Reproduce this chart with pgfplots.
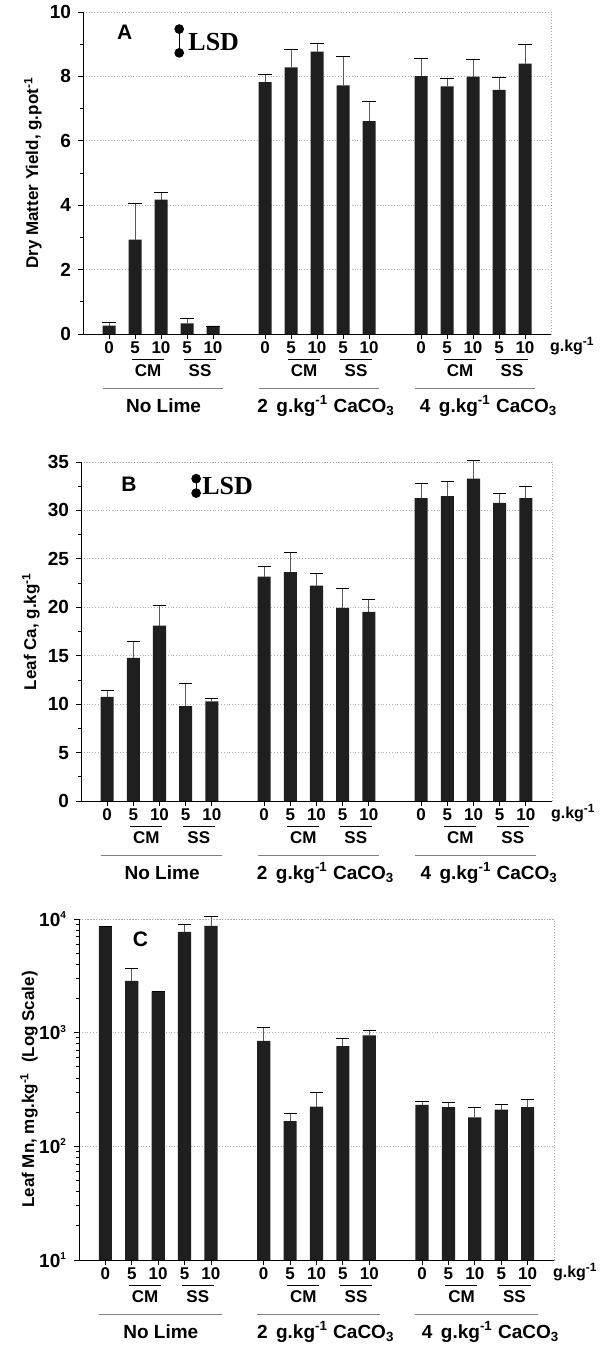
\documentclass[border=0pt]{standalone}
\usepackage{fontspec}
\setmainfont{Liberation Sans}
\newfontfamily\lsdfont{Liberation Serif}
\usepackage{pgfplots}
\pgfplotsset{compat=1.18}
\usepackage{pgfplotstable}

% dry matter yield, g/pot (value, upper error)
\pgfplotstableread{
x  y     e
0  0.26  0.10
1  2.93  1.14
2  4.17  0.24
3  0.33  0.14
4  0.25  0
6  7.82  0.25
7  8.28  0.57
8  8.77  0.25
9  7.72  0.89
10 6.61  0.62
12 8.01  0.54
13 7.69  0.24
14 7.99  0.53
15 7.58  0.39
16 8.40  0.59
}\dmy

% leaf Ca, g/kg
\pgfplotstableread{
x  y      e
0  10.76  0.69
1  14.79  1.66
2  18.10  2.14
3  9.79   2.38
4  10.28  0.34
6  23.17  1.07
7  23.62  2.00
8  22.24  1.21
9  19.93  2.04
10 19.52  1.34
12 31.27  1.56
13 31.48  1.52
14 33.28  1.92
15 30.79  0.97
16 31.27  1.21
}\leafca

% leaf Mn, mg/kg
\pgfplotstableread{
x  y     e
0  8600  0
1  2850  820
2  2300  0
3  7710  1310
4  8720  1840
6  849   261
7  167   27
8  224   73
9  760   124
10 947   110
12 232   15
13 221   21
14 180   41
15 210   22
16 221   38
}\leafmn

\newcommand{\lblfont}{\bfseries\fontsize{8.5}{9}\selectfont}
\newcommand{\ytfont}{\bfseries\fontsize{9.5}{10}\selectfont}
\newcommand{\grpfont}{\bfseries\fontsize{9.5}{10}\selectfont}
\newcommand{\letfont}{\bfseries\fontsize{10.5}{11}\selectfont}

% labels under one group: #1 first position, #2 y at bottom, #3 name offset, #4 group name
\newcommand{\grp}[4]{%
  \draw[thin] ([yshift=-12.5pt]axis cs:{#1+0.88},#2) -- ([yshift=-12.5pt]axis cs:{#1+2.1},#2);
  \draw[thin] ([yshift=-12.5pt]axis cs:{#1+2.9},#2) -- ([yshift=-12.5pt]axis cs:{#1+4.12},#2);
  \node[anchor=base,font=\lblfont] at ([yshift=-21pt]axis cs:{#1+1.5},#2) {CM};
  \node[anchor=base,font=\lblfont] at ([yshift=-21pt]axis cs:{#1+3.5},#2) {SS};
  \draw[gray,thin] ([yshift=-27pt]axis cs:{#1-0.25},#2) -- ([yshift=-27pt]axis cs:{#1+4.4},#2);
  \node[anchor=base,font=\grpfont] at ([yshift=-39pt]axis cs:{#1+#3},#2) {#4};
}
\newcommand{\allgroups}[1]{%
  \grp{0}{#1}{2.1}{No Lime}
  \grp{6}{#1}{2.35}{2\, g.kg\textsuperscript{-1} CaCO\textsubscript{3}}
  \grp{12}{#1}{2.6}{4\, g.kg\textsuperscript{-1} CaCO\textsubscript{3}}
  \node[anchor=base west,font=\bfseries\fontsize{8}{9}\selectfont,inner sep=0pt] at ([yshift=-8.5pt]axis cs:16.95,#1) {g.kg\textsuperscript{-1}};
  \draw[black,thin] (rel axis cs:0,1) -- (rel axis cs:0,0) -- (rel axis cs:1,0);
}

\pgfplotsset{
  panel/.style={
    scale only axis, clip=false,
    xmin=-1, xmax=17,
    xtick={0,1,2,3,4,6,7,8,9,10,12,13,14,15,16},
    xticklabels={0,5,10,5,10,0,5,10,5,10,0,5,10,5,10},
    tick pos=left, tick align=outside,
    major tick length=2.5pt, minor tick length=1.5pt,
    tick style={black, thin},
    axis line style={gray!70, thin, densely dotted},
    ymajorgrids, major grid style={densely dotted, gray!60},
    yticklabel style={font=\ytfont},
    /pgf/number format/assume math mode=true,
    xticklabel style={font=\lblfont, anchor=base, yshift=-7pt},
    ylabel style={font=\lblfont},
  },
  bars/.style={
    ybar, bar width=0.5, fill=black!88, draw=none,
    error bars/.cd, y dir=plus, y explicit,
    error bar style={gray!70!black, thin},
    error mark options={black, thin, rotate=90, mark size=3.3pt},
  },
}

\begin{document}
\begin{tikzpicture}
\path[use as bounding box] (0,0) rectangle (300pt,-674pt);

% A: dry matter yield
\begin{axis}[panel, at={(41.5pt,-167pt)}, anchor=south west,
  width=234pt, height=161pt,
  ymin=0, ymax=10, ytick={0,2,...,10}, minor y tick num=1,
  ylabel={Dry Matter Yield, g.pot\textsuperscript{-1}},
  ylabel style={at={([xshift=-25pt]axis description cs:0,0.5)}, anchor=center}]
\addplot[bars] table[x=x, y=y, y error=e] {\dmy};
\addplot[black, thin, mark=*, mark size=2.2pt] coordinates {(2.7,9.47) (2.7,8.73)};
\node[anchor=west, font=\lsdfont\bfseries\fontsize{13}{13}\selectfont, inner sep=0pt] at (axis cs:3.04,9.08) {LSD};
\node[font=\letfont] at (axis cs:0.6,9.36) {A};
\allgroups{0}
\end{axis}

% B: leaf Ca
\begin{axis}[panel, at={(40.5pt,-400.5pt)}, anchor=south west,
  width=235.5pt, height=169.5pt,
  ymin=0, ymax=35, ytick={0,5,...,35}, minor y tick num=1,
  ylabel={Leaf Ca, g.kg\textsuperscript{-1}},
  ylabel style={at={([xshift=-25pt]axis description cs:0,0.5)}, anchor=center}]
\addplot[bars] table[x=x, y=y, y error=e] {\leafca};
\addplot[black, thin, mark=*, mark size=2.2pt] coordinates {(3.4,33.28) (3.4,31.79)};
\node[anchor=west, font=\lsdfont\bfseries\fontsize{13}{13}\selectfont, inner sep=0pt] at (axis cs:3.62,32.55) {LSD};
\node[font=\letfont] at (axis cs:0.83,32.66) {B};
\allgroups{0}
\end{axis}

% C: leaf Mn, log scale
\begin{axis}[panel, at={(39.5pt,-630pt)}, anchor=south west,
  width=237.5pt, height=170.5pt,
  ymode=log, log origin=infty, ymin=10, ymax=10000,
  ytick={10,100,1000,10000},
  yticklabels={10\textsuperscript{\tiny 1},10\textsuperscript{\tiny 2},10\textsuperscript{\tiny 3},10\textsuperscript{\tiny 4}},
  ylabel={Leaf Mn, mg.kg\textsuperscript{-1}\ \ (Log Scale)},
  ylabel style={at={([xshift=-25pt]axis description cs:0,0.5)}, anchor=center}]
\addplot[bars] table[x=x, y=y, y error=e] {\leafmn};
\node[font=\letfont] at (axis cs:1.33,6700) {C};
\allgroups{10}
\end{axis}
\end{tikzpicture}
\end{document}
